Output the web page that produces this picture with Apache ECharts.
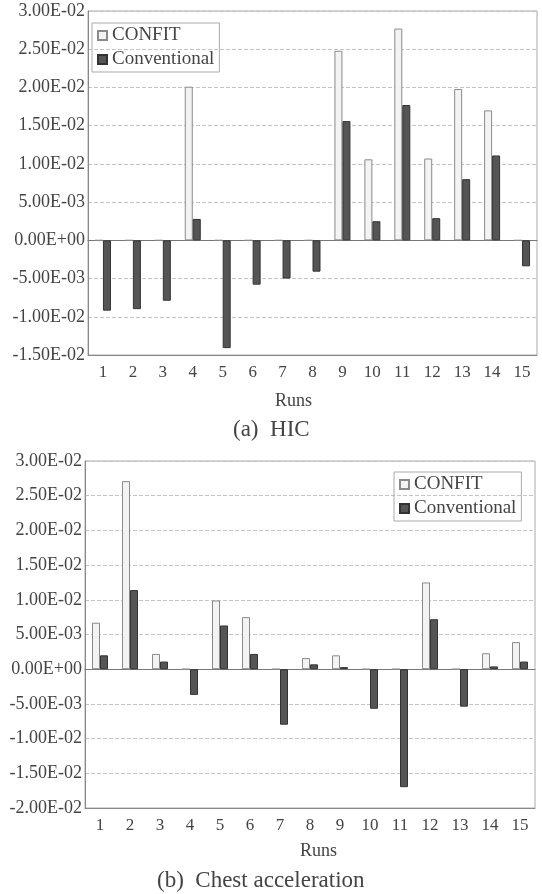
<!DOCTYPE html>
<html>
<head>
<meta charset="utf-8">
<script src="https://cdn.jsdelivr.net/npm/echarts@6/dist/echarts.min.js"></script>
<style>
  html, body { margin: 0; padding: 0; background: #fff; }
  #chart { width: 542px; height: 894px; }
</style>
</head>
<body>
<div id="chart"></div>
<script>
var runs = ["1", "2", "3", "4", "5", "6", "7", "8", "9", "10", "11", "12", "13", "14", "15"];

// (a) HIC
var hicConfit = [0, 0, 0, 0.0201, 0, 0, 0, 0, 0.0248, 0.0106, 0.0277, 0.0107, 0.0198, 0.0170, 0];
var hicConventional = [-0.0092, -0.0090, -0.0079, 0.0028, -0.0141, -0.0058, -0.0050, -0.0041, 0.0156, 0.0025, 0.0177, 0.0029, 0.0080, 0.0111, -0.0034];

// (b) Chest acceleration
var chestConfit = [0.0067, 0.0271, 0.0022, 0, 0.0099, 0.0075, 0, 0.0016, 0.0020, 0, 0, 0.0125, 0, 0.0023, 0.0039];
var chestConventional = [0.0020, 0.0114, 0.0011, -0.0037, 0.0063, 0.0022, -0.0080, 0.0007, 0.0003, -0.0057, -0.0170, 0.0072, -0.0054, 0.0004, 0.0011];

var serif = "Liberation Serif";
var ink = "#444";

function sci(v) {
  var s = Number(v).toExponential(2);
  var parts = s.split("e");
  var exp = parseInt(parts[1], 10);
  var sign = exp < 0 ? "-" : "+";
  var e = Math.abs(exp);
  return parts[0] + "E" + sign + (e < 10 ? "0" + e : e);
}

var confitStyle = { color: "#f3f3f3", borderColor: "#8a8a8a", borderWidth: 1 };
var convStyle = { color: "#555", borderColor: "#333", borderWidth: 1 };

function labelAxis(grid) {
  return {
    type: "category", gridIndex: grid, data: runs, position: "bottom",
    axisLine: { onZero: false, lineStyle: { color: "#888" } },
    axisTick: { inside: true, length: 3, lineStyle: { color: "#888" } },
    axisLabel: { color: ink, fontFamily: serif, fontSize: 17, margin: 9 }
  };
}
function zeroAxis(grid) {
  return {
    type: "category", gridIndex: grid, data: runs,
    axisLine: { onZero: true, lineStyle: { color: "#777" } },
    axisTick: { inside: true, length: 3, lineStyle: { color: "#888" } },
    axisLabel: { show: false }
  };
}
function valueAxis(grid, min) {
  return {
    type: "value", gridIndex: grid, min: min, max: 0.03, interval: 0.005,
    axisLine: { show: true, lineStyle: { color: "#888" } },
    axisTick: { show: false },
    splitLine: { lineStyle: { color: "#c4c4c4", type: "dashed", width: 1 } },
    axisLabel: { color: ink, fontFamily: serif, fontSize: 18, margin: 3, formatter: sci }
  };
}

function legendAt(left, top) {
  return {
    left: left, top: top, orient: "vertical", itemGap: 5, padding: [3, 5, 3, 5],
    itemWidth: 9, itemHeight: 9, icon: "rect",
    borderColor: "#aaa", borderWidth: 1,
    textStyle: { color: ink, fontFamily: serif, fontSize: 19 },
    data: ["CONFIT", "Conventional"]
  };
}

var chart = echarts.init(document.getElementById("chart"));
chart.setOption({
  animation: false,
  grid: [
    { left: 88, right: 5, top: 11, height: 344, show: true, borderColor: "#aaa" },
    { left: 85, right: 7, top: 461, height: 347, show: true, borderColor: "#aaa" }
  ],
  xAxis: [labelAxis(0), zeroAxis(0), labelAxis(1), zeroAxis(1)],
  yAxis: [valueAxis(0, -0.015), valueAxis(1, -0.02)],
  legend: [legendAt(92, 23), legendAt(394, 472)],
  graphic: [
    { type: "text", left: 275, top: 392, style: { text: "Runs", fill: ink, font: "18px " + serif } },
    { type: "text", left: 233, top: 418, style: { text: "(a)  HIC", fill: ink, font: "23px " + serif } },
    { type: "text", left: 300, top: 842, style: { text: "Runs", fill: ink, font: "18px " + serif } },
    { type: "text", left: 157, top: 869, style: { text: "(b)  Chest acceleration", fill: ink, font: "23px " + serif } }
  ],
  series: [
    { name: "CONFIT", type: "bar", xAxisIndex: 0, yAxisIndex: 0, barWidth: 8, barGap: "0%", itemStyle: confitStyle, data: hicConfit },
    { name: "Conventional", type: "bar", xAxisIndex: 0, yAxisIndex: 0, barWidth: 8, barGap: "0%", itemStyle: convStyle, data: hicConventional },
    { name: "CONFIT", type: "bar", xAxisIndex: 2, yAxisIndex: 1, barWidth: 8, barGap: "0%", itemStyle: confitStyle, data: chestConfit },
    { name: "Conventional", type: "bar", xAxisIndex: 2, yAxisIndex: 1, barWidth: 8, barGap: "0%", itemStyle: convStyle, data: chestConventional }
  ]
});
</script>
</body>
</html>
